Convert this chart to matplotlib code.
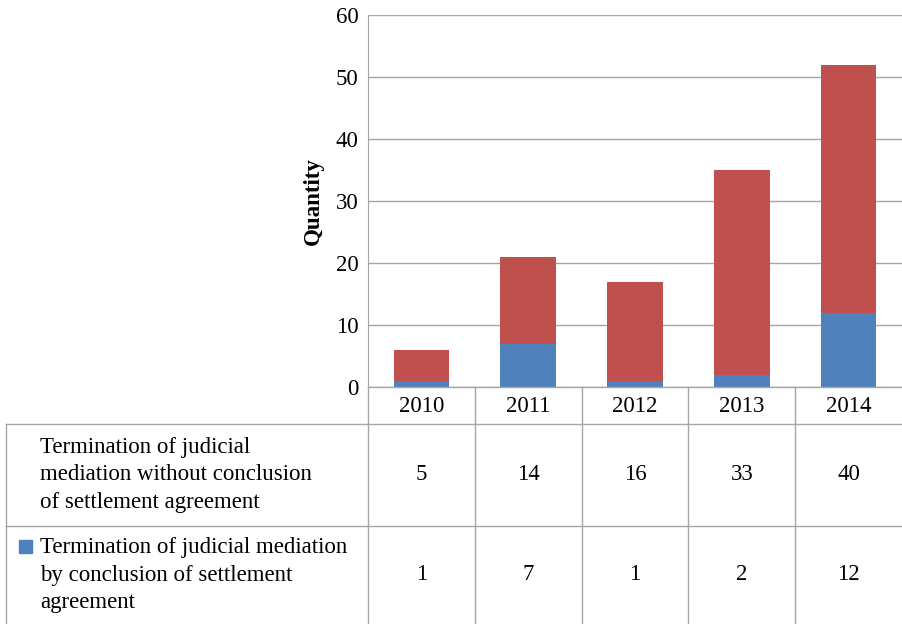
import matplotlib.pyplot as plt
from matplotlib.patches import Rectangle

plt.rcParams['font.family'] = ['Liberation Serif', 'DejaVu Serif']

years = ['2010', '2011', '2012', '2013', '2014']
settled = [1, 7, 1, 2, 12]
not_settled = [5, 14, 16, 33, 40]
row_labels = ['Termination of judicial\nmediation without conclusion\nof settlement agreement',
              'Termination of judicial mediation\nby conclusion of settlement\nagreement']

blue = '#4F81BD'
red = '#C0504D'
line_c = '#A6A6A6'
fs = 16.5

fig = plt.figure(figsize=(9.03, 6.24), dpi=100)
W, H = 903.0, 624.0
ax = fig.add_axes([368 / W, (H - 387) / H, 534 / W, 372 / H])

x = range(len(years))
ax.bar(x, settled, width=0.52, color=blue, zorder=3)
ax.bar(x, not_settled, width=0.52, bottom=settled, color=red, zorder=3)

ax.set_xlim(-0.5, len(years) - 0.5)
ax.set_ylim(0, 60)
ax.set_yticks(range(0, 61, 10))
ax.set_xticks([])
ax.tick_params(axis='y', labelsize=fs, length=0, pad=7)
ax.yaxis.grid(True, color=line_c, linewidth=1, zorder=0)
for s in ['top', 'right', 'bottom']:
    ax.spines[s].set_visible(False)
ax.spines['left'].set_color(line_c)
ax.set_ylabel('Quantity', fontsize=fs, fontweight='bold', labelpad=8)

# data table under the chart, drawn in figure pixels
def px(xp, yp):
    return xp / W, (H - yp) / H

def hline(y, x0, x1):
    fig.add_artist(plt.Line2D([x0 / W, x1 / W], [(H - y) / H] * 2, color=line_c, lw=1))

def vline(xp, y0, y1):
    fig.add_artist(plt.Line2D([xp / W] * 2, [(H - y0) / H, (H - y1) / H], color=line_c, lw=1))

col_edges = [368 + i * 106.8 for i in range(6)]
hline(387, 368, 903)
hline(424, 6, 903)
hline(526, 6, 903)
vline(6, 424, 624)
for xe in col_edges[:-1]:
    vline(xe, 387, 624)

row_mid = [475, 575]
for i, yr in enumerate(years):
    cx = (col_edges[i] + col_edges[i + 1]) / 2
    fig.text(*px(cx, 407), yr, ha='center', va='center', fontsize=fs)
    fig.text(*px(cx, row_mid[0]), str(not_settled[i]), ha='center', va='center', fontsize=fs)
    fig.text(*px(cx, row_mid[1]), str(settled[i]), ha='center', va='center', fontsize=fs)

for lab, ym in zip(row_labels, row_mid):
    fig.text(*px(40, ym), lab, ha='left', va='center', fontsize=fs, linespacing=1.4)

fig.add_artist(Rectangle(px(19, 553), 13 / W, 13 / H, color=blue, transform=fig.transFigure))

fig.savefig('out.png', dpi=100)
